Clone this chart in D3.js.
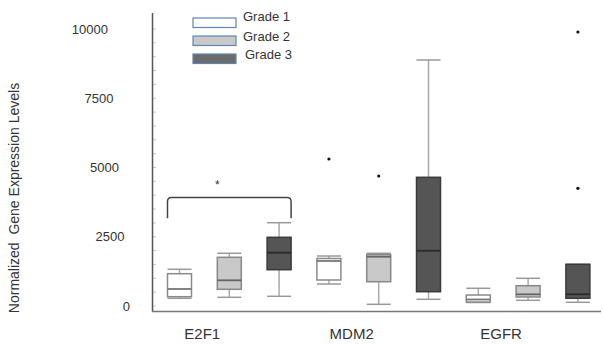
<!DOCTYPE html>
<html>
<head>
<meta charset="utf-8">
<script src="https://cdn.jsdelivr.net/npm/d3@7"></script>
<style>
	body { margin: 0; background: #fff; }
	svg { display: block; font-family: "Liberation Sans", Arial, sans-serif; }
</style>
</head>
<body>
<svg id="svg"></svg>
<script>
var genes = ["E2F1", "MDM2", "EGFR"],
	grades = ["Grade 1", "Grade 2", "Grade 3"],
	yTicks = [0, 2500, 5000, 7500, 10000];

// [whisker low, q1, median, q3, whisker high] per gene, one row per grade
var e2f1 = [
	[278, 336, 614, 1166, 1325],
	[314, 603, 928, 1758, 1903],
	[350, 1310, 1924, 2480, 3007]
];
var mdm2 = [
	[794, 939, 1625, 1715, 1805],
	[61, 877, 1780, 1859, 1903],
	[242, 516, 1996, 4646, 8881]
];
var egfr = [
	[126, 144, 235, 397, 639],
	[206, 325, 422, 733, 1000],
	[134, 278, 422, 1505, 1505]
];
var outliers = [
	{gene: "MDM2", grade: "Grade 1", value: 5307},
	{gene: "MDM2", grade: "Grade 2", value: 4693},
	{gene: "EGFR", grade: "Grade 3", value: 9892},
	{gene: "EGFR", grade: "Grade 3", value: 4249}
];
// significance bracket over E2F1 grade 1 .. grade 3
var bracket = {gene: "E2F1", from: "Grade 1", to: "Grade 3", low: 3170, high: 3920, label: "*"};

var width = 603,
	height = 345,
	boxWidth = 24;

var fills = {"Grade 1": "#ffffff", "Grade 2": "#c9c9c9", "Grade 3": "#555555"},
	strokes = {"Grade 1": "#8a8a8a", "Grade 2": "#888888", "Grade 3": "#3a3a3a"},
	medians = {"Grade 1": "#777777", "Grade 2": "#666666", "Grade 3": "#2a2a2a"};

var boxData = [];
[e2f1, mdm2, egfr].forEach(function(rows, gi){
	rows.forEach(function(r, k){
		boxData.push({gene: genes[gi], grade: grades[k], lo: r[0], q1: r[1], med: r[2], q3: r[3], hi: r[4]});
	});
});

var svg = d3.select("#svg")
	.attr("width", width)
	.attr("height", height);

var y = d3.scaleLinear().domain([0, 10000]).range([306, 29]);
var xGene = d3.scaleBand().domain(genes).range([154.6, 602.8]);
var xGrade = d3.scaleBand().domain(grades).range([0, xGene.bandwidth()]);

function cx(gene, grade){
	return xGene(gene) + xGrade(grade) + xGrade.bandwidth() / 2;
}

// minor ticks on the left axis
svg.append("g")
	.selectAll("line")
	.data(d3.range(0, 10001, 500))
	.enter().append("line")
	.attr("x1", 153).attr("x2", 156)
	.attr("y1", function(d){ return y(d); })
	.attr("y2", function(d){ return y(d); })
	.attr("stroke", "#c8c8c8")
	.attr("stroke-width", 1);

// axes lines
svg.append("line")
	.attr("x1", 152.5).attr("x2", 152.5)
	.attr("y1", 13).attr("y2", 311.5)
	.attr("stroke", "#555").attr("stroke-width", 1.5);
svg.append("line")
	.attr("x1", 152).attr("x2", 601)
	.attr("y1", 311.5).attr("y2", 311.5)
	.attr("stroke", "#777").attr("stroke-width", 1.5);

// y tick labels (slightly staggered like the source figure)
svg.append("g")
	.selectAll("text")
	.data(yTicks)
	.enter().append("text")
	.attr("x", function(d){ return 130 - 22 * d / 10000; })
	.attr("y", function(d){ return y(d); })
	.attr("dy", "0.35em")
	.attr("text-anchor", "end")
	.attr("font-size", 13)
	.attr("fill", "#333")
	.text(function(d){ return d; });

// y title
svg.append("text")
	.attr("transform", "translate(19,198) rotate(-90)")
	.attr("text-anchor", "middle")
	.attr("font-size", 14)
	.attr("fill", "#333")
	.attr("xml:space", "preserve")
	.text("Normalized  Gene Expression Levels");

// gene labels
svg.append("g")
	.selectAll("text")
	.data(genes)
	.enter().append("text")
	.attr("x", function(d){ return xGene(d) + xGene.bandwidth() / 2 - 27; })
	.attr("y", 339)
	.attr("text-anchor", "middle")
	.attr("font-size", 15)
	.attr("fill", "#333")
	.text(function(d){ return d; });

// boxes
var box = svg.append("g").selectAll("g")
	.data(boxData)
	.enter().append("g")
	.attr("transform", function(d){ return "translate(" + cx(d.gene, d.grade) + ",0)"; });

box.append("line")
	.attr("x1", 0).attr("x2", 0)
	.attr("y1", function(d){ return y(d.hi); })
	.attr("y2", function(d){ return y(d.q3); })
	.attr("stroke", "#aaa").attr("stroke-width", 1.5);
box.append("line")
	.attr("x1", 0).attr("x2", 0)
	.attr("y1", function(d){ return y(d.q1); })
	.attr("y2", function(d){ return y(d.lo); })
	.attr("stroke", "#aaa").attr("stroke-width", 1.5);
box.selectAll(".cap")
	.data(function(d){ return [d.lo, d.hi]; })
	.enter().append("line")
	.attr("class", "cap")
	.attr("x1", -boxWidth / 2).attr("x2", boxWidth / 2)
	.attr("y1", function(v){ return y(v); })
	.attr("y2", function(v){ return y(v); })
	.attr("stroke", "#999").attr("stroke-width", 1.5);
box.append("rect")
	.attr("x", -boxWidth / 2)
	.attr("width", boxWidth)
	.attr("y", function(d){ return y(d.q3); })
	.attr("height", function(d){ return y(d.q1) - y(d.q3); })
	.attr("fill", function(d){ return fills[d.grade]; })
	.attr("stroke", function(d){ return strokes[d.grade]; })
	.attr("stroke-width", 1.5);
box.append("line")
	.attr("x1", -boxWidth / 2).attr("x2", boxWidth / 2)
	.attr("y1", function(d){ return y(d.med); })
	.attr("y2", function(d){ return y(d.med); })
	.attr("stroke", function(d){ return medians[d.grade]; })
	.attr("stroke-width", 1.8);

// outliers
svg.append("g")
	.selectAll("circle")
	.data(outliers)
	.enter().append("circle")
	.attr("cx", function(d){ return cx(d.gene, d.grade); })
	.attr("cy", function(d){ return y(d.value); })
	.attr("r", 1.6)
	.attr("fill", "#111");

// significance bracket
var bx1 = cx(bracket.gene, bracket.from) - boxWidth / 2,
	bx2 = cx(bracket.gene, bracket.to) + boxWidth / 2,
	byLow = y(bracket.low),
	byHigh = y(bracket.high),
	r = 4;
var bp = d3.path();
bp.moveTo(bx1, byLow);
bp.lineTo(bx1, byHigh + r);
bp.quadraticCurveTo(bx1, byHigh, bx1 + r, byHigh);
bp.lineTo(bx2 - r, byHigh);
bp.quadraticCurveTo(bx2, byHigh, bx2, byHigh + r);
bp.lineTo(bx2, byLow);
svg.append("path")
	.attr("d", bp.toString())
	.attr("fill", "none")
	.attr("stroke", "#444")
	.attr("stroke-width", 1.5);
svg.append("text")
	.attr("x", (bx1 + bx2) / 2 - 12)
	.attr("y", byHigh - 8)
	.attr("text-anchor", "middle")
	.attr("font-size", 12)
	.attr("fill", "#333")
	.text(bracket.label);

// legend
var legend = svg.append("g").selectAll("g")
	.data(grades)
	.enter().append("g")
	.attr("transform", function(d, i){ return "translate(193," + (18 + i * 18) + ")"; });
legend.append("rect")
	.attr("width", 43)
	.attr("height", 9.5)
	.attr("fill", function(d){ return d == "Grade 3" ? "#6b6b6b" : fills[d]; })
	.attr("stroke", "#5f86b0")
	.attr("stroke-width", 1.2);
legend.append("text")
	.attr("x", function(d, i){ return i == 2 ? 52 : 50; })
	.attr("y", function(d, i){ return i == 0 ? -2 : 0; })
	.attr("dy", "0.35em")
	.attr("font-size", 13)
	.attr("fill", "#333")
	.text(function(d){ return d; });
</script>
</body>
</html>
